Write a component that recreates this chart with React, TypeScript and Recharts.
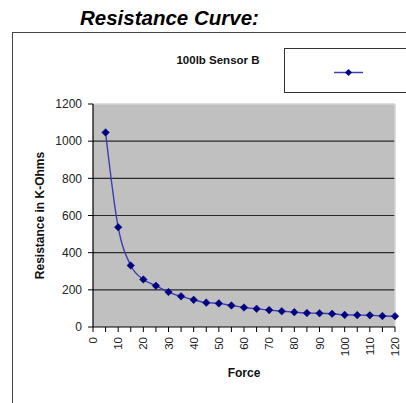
import React from 'react';
import { LineChart, Line, XAxis, YAxis, CartesianGrid, ReferenceLine } from 'recharts';

const forces = [5, 10, 15, 20, 25, 30, 35, 40, 45, 50, 55, 60, 65, 70, 75, 80, 85, 90, 95, 100, 105, 110, 115, 120];
const resistance = [1047, 537, 331, 256, 222, 188, 165, 146, 131, 127, 116, 105, 98, 91, 85, 80, 75, 74, 71, 65, 64, 63, 59, 58];
const xTicks = [0, 5, 10, 15, 20, 25, 30, 35, 40, 45, 50, 55, 60, 65, 70, 75, 80, 85, 90, 95, 100, 105, 110, 115, 120];
const yTicks = [0, 200, 400, 600, 800, 1000, 1200];
const gridValues = [200, 400, 600, 800, 1000];
const seriesName = '100lb Sensor B';

const data = forces.map((f, i) => ({ force: f, r: resistance[i] }));

const FONT = '"Liberation Sans", Arial, sans-serif';

const XTick = (props: any) => {
  const { x, y, payload } = props;
  if (payload.value % 10 !== 0) return <g />;
  return (
    <text
      x={x}
      y={y + 3}
      transform={`rotate(-90 ${x} ${y + 3})`}
      textAnchor="end"
      dy="0.36em"
      fontSize={11.5}
      fontFamily={FONT}
      fill="#222"
    >
      {payload.value}
    </text>
  );
};

const Diamond = (props: any) => {
  const { cx, cy } = props;
  if (cx == null || cy == null) return <g />;
  const s = 3.8;
  return <path d={`M${cx},${cy - s} L${cx + s},${cy} L${cx},${cy + s} L${cx - s},${cy} Z`} fill="#000080" stroke="#000080" strokeWidth={0.5} />;
};

export default function App() {
  return (
    <div style={{ position: 'absolute', left: 0, top: 0, width: 406, height: 403, overflow: 'hidden', background: '#fff', fontFamily: FONT }}>
      <div style={{ position: 'absolute', left: 80, top: 7, fontSize: 20.5, lineHeight: '22px', fontWeight: 'bold', fontStyle: 'italic', color: '#000', whiteSpace: 'nowrap' }}>
        Resistance Curve:
      </div>
      <div style={{ position: 'absolute', left: 12, top: 32, width: 430, height: 400, border: '1.5px solid #444', boxSizing: 'border-box' }} />
      <div style={{ position: 'absolute', left: 150, top: 54, width: 136, textAlign: 'center', fontSize: 11.5, lineHeight: '13px', fontWeight: 'bold', color: '#111', whiteSpace: 'nowrap' }}>
        {seriesName}
      </div>
      <div style={{ position: 'absolute', left: 284, top: 48, width: 140, height: 45, border: '1.2px solid #333', background: '#fff', boxSizing: 'border-box' }}>
        <svg width={140} height={45} style={{ position: 'absolute', left: 0, top: 0 }}>
          <line x1={49} y1={23.5} x2={78} y2={23.5} stroke="#4040b0" strokeWidth={1.5} />
          <path d="M63.5,20 L67,23.5 L63.5,27 L60,23.5 Z" fill="#000080" />
        </svg>
      </div>
      <div style={{ position: 'absolute', left: 0, top: 0 }}>
        <LineChart width={406} height={403} data={data} margin={{ top: 104, right: 11, bottom: 0, left: 0 }}>
          <CartesianGrid horizontal vertical={false} horizontalValues={gridValues} stroke="#2a2a2a" strokeWidth={1.2} fill="#c0c0c0" />
          <ReferenceLine x={120} stroke="#d4d4d4" strokeWidth={1.5} />
          <ReferenceLine y={1200} stroke="#d4d4d4" strokeWidth={1.5} />
          <XAxis
            type="number"
            dataKey="force"
            domain={[0, 120]}
            ticks={xTicks}
            interval={0}
            height={76}
            tickSize={5}
            tick={<XTick />}
            axisLine={{ stroke: '#000', strokeWidth: 1.2 }}
            tickLine={{ stroke: '#000' }}
            label={{
              content: (p: any) => {
                const vb = p.viewBox;
                return (
                  <text x={vb.x + vb.width / 2} y={373} textAnchor="middle" dominantBaseline="central" fontSize={12} fontWeight="bold" fontFamily={FONT} fill="#111">
                    Force
                  </text>
                );
              },
            }}
          />
          <YAxis
            type="number"
            domain={[0, 1200]}
            ticks={yTicks}
            interval={0}
            width={93}
            tickSize={5}
            tickMargin={6}
            tick={{ fontSize: 12, fill: '#222', fontFamily: FONT }}
            axisLine={{ stroke: '#000', strokeWidth: 1.2 }}
            tickLine={{ stroke: '#000' }}
            label={{
              content: (p: any) => {
                const vb = p.viewBox;
                const cy = vb.y + vb.height / 2;
                return (
                  <text x={40} y={cy} transform={`rotate(-90 40 ${cy})`} textAnchor="middle" dominantBaseline="central" fontSize={12} fontWeight="bold" fontFamily={FONT} fill="#111">
                    Resistance in K-Ohms
                  </text>
                );
              },
            }}
          />
          <Line
            type="monotone"
            dataKey="r"
            name={seriesName}
            stroke="#3c3cb0"
            strokeWidth={1.4}
            dot={<Diamond />}
            activeDot={false}
            isAnimationActive={false}
          />
        </LineChart>
      </div>
    </div>
  );
}
